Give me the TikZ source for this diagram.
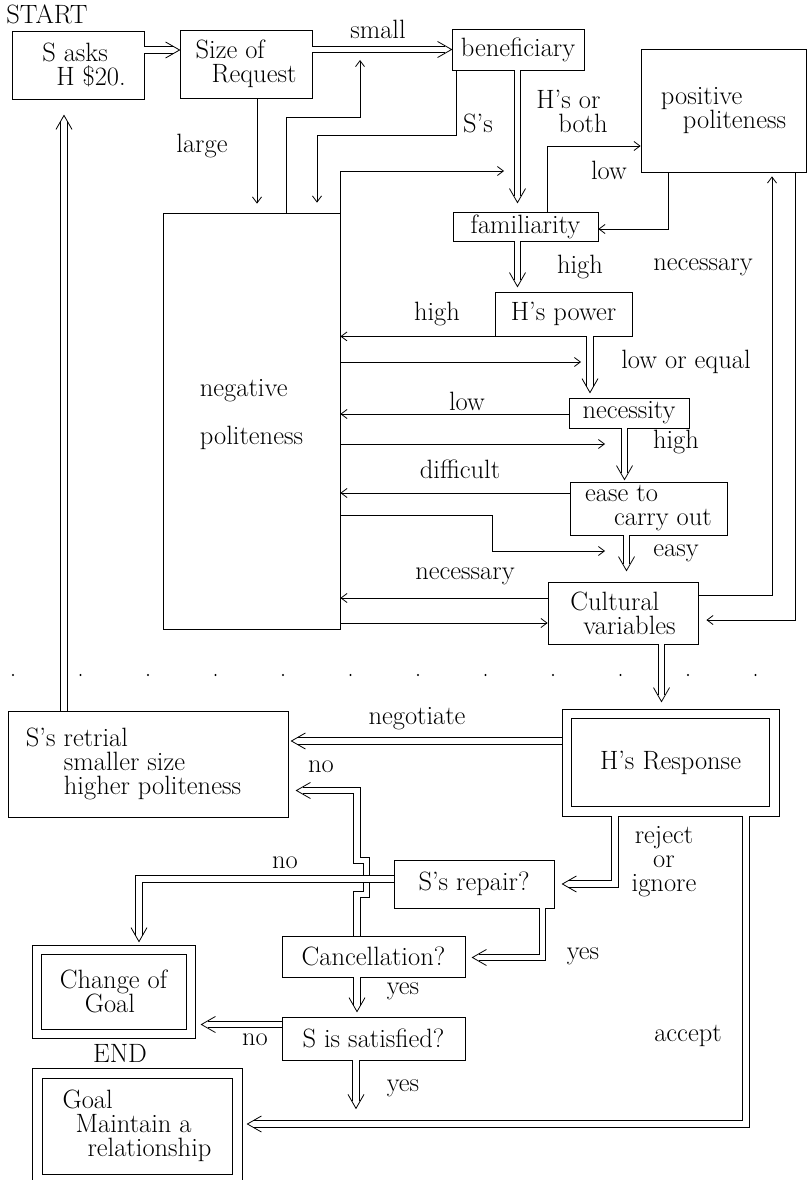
\documentclass[tikz,border=0pt]{standalone}
\usepackage{fontspec}
\usetikzlibrary{arrows.meta,calc}
\newcommand\fs{\fontsize{26.5}{24}\selectfont}
\tikzset{
  box/.style={draw, line width=0.8pt, inner sep=0pt, align=left, font=\fs},
  lbl/.style={inner sep=0pt, align=center, font=\fs},
  arr/.style={line width=0.8pt, -{Straight Barb[length=6pt,width=9pt]}},
  dbl/.style={line width=0.8pt, double, double distance=5.5pt, shorten >=7pt},
  chev/.style={line width=0.8pt},
  frame/.style={line width=0.8pt},
}
\newcommand\tipR[1]{\draw[chev] ($(#1)+(-14,-8)$) -- (#1) -- ($(#1)+(-14,8)$);}
\newcommand\tipL[1]{\draw[chev] ($(#1)+(14,-8)$) -- (#1) -- ($(#1)+(14,8)$);}
\newcommand\tipD[1]{\draw[chev] ($(#1)+(-8,-14)$) -- (#1) -- ($(#1)+(8,-14)$);}
\newcommand\tipU[1]{\draw[chev] ($(#1)+(-8,14)$) -- (#1) -- ($(#1)+(8,14)$);}
\begin{document}
\begin{tikzpicture}[x=1pt,y=-1pt]
\useasboundingbox (0,0) rectangle (809,1180);
\fill[white] (0,0) rectangle (809,1180);

% ---------- boxes ----------
\node[box, minimum width=132pt, minimum height=68pt] (sasks) at (78,65) {\hspace*{12pt}S asks\\\hspace*{26pt}H \$20.};
\node[box, minimum width=132pt, minimum height=68pt] (size) at (246,64) {Size of\\\hspace*{16pt}Request};
\node[box, minimum width=132pt, minimum height=41pt] (benef) at (518,49.5) {beneficiary};
\node[box, minimum width=165pt, minimum height=123pt] (pos) at (723.5,110.5) {positive\\\hspace*{22pt}politeness};
\node[box, minimum width=177pt, minimum height=416pt] (neg) at (251.5,421) {negative\\[24pt]politeness\\[-6pt]~};
\node[box, minimum width=145pt, minimum height=29pt] (fam) at (525.5,226.5) {familiarity};
\node[box, minimum width=137pt, minimum height=44pt] (power) at (563.5,314) {H's power};
\node[box, minimum width=120pt, minimum height=30pt] (nec) at (629,413) {necessity};
\node[box, minimum width=157pt, minimum height=53pt] (ease) at (648.5,508.5) {ease to\\\hspace*{29pt}carry out};
\node[box, minimum width=150pt, minimum height=62pt] (cult) at (623,613) {Cultural\\\hspace*{13pt}variables};
\node[box, minimum width=217pt, minimum height=107pt] (response) at (670.5,762.5) {H's Response};
\node[box, minimum width=280pt, minimum height=106pt] (retrial) at (148,764) {S's retrial\\\hspace*{38pt}smaller size\\\hspace*{38pt}higher politeness\hspace*{29pt}};
\node[box, minimum width=160pt, minimum height=48pt] (repair) at (474,884) {S's repair?};
\node[box, minimum width=183pt, minimum height=41pt] (cancel) at (373.5,956.5) {Cancellation?};
\node[box, minimum width=183pt, minimum height=43pt] (satis) at (373.5,1038.5) {S is satisfied?};
\node[box, minimum width=163pt, minimum height=93pt] (change) at (113.5,991.5) {Change of\\\hspace*{25pt}Goal};
\node[box, minimum width=210pt, minimum height=116pt] (goal) at (137,1126) {Goal\\\hspace*{13pt}Maintain a\\\hspace*{25pt}relationship};
% inner frames of the double boxes
\draw[frame] ([shift={(10,10)}]response.north west) rectangle ([shift={(-10,-10)}]response.south east);
\draw[frame] ([shift={(9.5,9.5)}]change.north west) rectangle ([shift={(-9.5,-9.5)}]change.south east);
\draw[frame] ([shift={(10.5,10.5)}]goal.north west) rectangle ([shift={(-10.5,-10.5)}]goal.south east);

% ---------- labels ----------
\node[lbl] (start) at (47,14) {START};
\node[lbl] (lsmall) at (378,29) {small};
\node[lbl] (llarge) at (202,146) {large};
\node[lbl] (lss) at (478,123) {S's};
\node[lbl, align=left] (lhs) at (572,111) {H's or\\\hspace*{22pt}both};
\node[lbl] (llow1) at (609,170) {low};
\node[lbl] (lhigh1) at (580,267) {high};
\node[lbl] (lnec1) at (703,267) {necessary};
\node[lbl] (lhigh2) at (437,314) {high};
\node[lbl] (lloweq) at (686,362) {low or equal};
\node[lbl] (llow2) at (467,401) {low};
\node[lbl] (lhigh3) at (676,442) {high};
\node[lbl] (ldiff) at (460,469) {difficult};
\node[lbl] (leasy) at (676,553) {easy};
\node[lbl] (lnec2) at (465,576) {necessary};
\node[lbl] (lneg) at (417,719) {negotiate};
\node[lbl] (lno1) at (321,767) {no};
\node[lbl] (lrej) at (664,862) {reject\\or\\ignore};
\node[lbl] (lno2) at (285,863) {no};
\node[lbl] (lyes1) at (583,956) {yes};
\node[lbl] (lyes2) at (403,991) {yes};
\node[lbl] (lno3) at (255,1040) {no};
\node[lbl] (lend) at (120,1053) {END};
\node[lbl] (lyes3) at (403,1088) {yes};
\node[lbl] (lacc) at (688,1036) {accept};

% ---------- dotted separator ----------
\foreach \k in {0,...,11} \fill (13+67.5*\k,675) circle (1.1pt);

% ---------- coordinates ----------
\coordinate (t1) at ([yshift=14pt]size.west);
\coordinate (smallpt) at (360,60);
\coordinate (c6) at (504,171);
\coordinate (t7) at ([xshift=-8pt,yshift=9pt]fam.north);
\coordinate (t10) at ([yshift=5pt]power.north -| t7);
\coordinate (t12) at ([xshift=-39pt,yshift=5pt]nec.north);
\coordinate (c13) at (581,362);
\coordinate (t15) at ([xshift=-24pt,yshift=2pt]ease.north);
\coordinate (c16) at (605,444);
\coordinate (c18) at (605,551);
\coordinate (t19) at ([xshift=3.5pt,yshift=11pt]cult.north);
\coordinate (t24) at ([xshift=-9pt,yshift=7pt]response.north);
\coordinate (t25) at ([xshift=-14pt,yshift=-16pt]sasks.south);
\coordinate (r26) at ([yshift=21.5pt]response.west);
\coordinate (t26) at ([xshift=3pt]r26 -| retrial.east);
\coordinate (t27) at ([xshift=8pt]repair.east);
\coordinate (t28) at ([xshift=5pt,yshift=2pt]goal.east);
\coordinate (t29) at ([xshift=25.5pt,yshift=3pt]change.north);
\coordinate (t30) at ([xshift=7pt,yshift=-1pt]cancel.east);
\coordinate (t31) at ([xshift=8pt,yshift=-26.5pt]retrial.east);
\coordinate (t32) at ([xshift=-16.5pt,yshift=5pt]satis.north);
\coordinate (s33) at ([yshift=14pt]satis.west);
\coordinate (t33) at ([xshift=6pt]s33 -| change.east);
\coordinate (t34) at ([xshift=-17.5pt,yshift=-48pt]satis.south);

% ---------- single arrows ----------
\draw[arr, shorten >=9pt] ([xshift=11pt]size.south) -- ([xshift=11pt]size.south |- neg.north);
\draw[arr] ([xshift=34.5pt]neg.north) |- ($(smallpt)+(0,57)$) -- (smallpt);
\draw[arr, shorten >=10pt] ([xshift=5pt]benef.south west) -- ++(0,65) -| ([xshift=65.5pt]neg.north);
\draw[arr] (neg.north east) |- (c6);
\draw[arr] ([xshift=95pt]fam.north west) |- ([yshift=-35.5pt]pos.west);
\draw[arr] ([xshift=28pt]pos.south west) |- ([yshift=-2.5pt]fam.east);
\draw[arr] (power.south west) -- (power.south west -| neg.east);
\draw[arr] (c13 -| neg.east) -- (c13);
\draw[arr] ([yshift=-1pt]nec.west) -- ([yshift=-1pt]nec.west -| neg.east);
\draw[arr] (c16 -| neg.east) -- (c16);
\draw[arr] ([yshift=15.5pt]ease.west) -- ([yshift=15.5pt]ease.west -| neg.east);
\draw[arr] ([yshift=-94pt]neg.east) -- ++(152,0) |- (c18);
\draw[arr] ([yshift=15pt]cult.west) -- ([yshift=15pt]cult.west -| neg.east);
\draw[arr] ([yshift=-10pt]cult.west -| neg.east) -- ([yshift=-10pt]cult.west);
\draw[arr] ([yshift=18pt]cult.east) -| ([xshift=48.5pt,yshift=-4pt]pos.south);
\draw[arr, shorten >=8pt] ([xshift=71.5pt]pos.south) |- ([yshift=-7pt]cult.east);

% ---------- double arrows ----------
\draw[dbl] (t1 -| sasks.east) -- (t1); \tipR{t1}
\draw[dbl] (benef.west -| size.east) -- (benef.west); \tipR{benef.west}
\draw[dbl] (t7 |- benef.south) -- (t7); \tipD{t7}
\draw[dbl] (t10 |- fam.south) -- (t10); \tipD{t10}
\draw[dbl] (t12 |- power.south) -- (t12); \tipD{t12}
\draw[dbl] (t15 |- nec.south) -- (t15); \tipD{t15}
\draw[dbl] (t19 |- ease.south) -- (t19); \tipD{t19}
\draw[dbl] (t24 |- cult.south) -- (t24); \tipD{t24}
\draw[dbl, double distance=6.5pt] (t25 |- retrial.north) -- (t25); \tipU{t25}
\draw[dbl] (r26) -- (t26); \tipL{t26}
\draw[dbl] ([xshift=-55.5pt]response.south) |- (t27); \tipL{t27}
\draw[dbl] ([xshift=75.5pt]response.south) |- (t28); \tipL{t28}
\draw[dbl] ([xshift=68.5pt]repair.south) |- (t30); \tipL{t30}
\draw[dbl] ([xshift=-16.5pt]cancel.north) -- ++(0,-41) -- ++(9.5,0) -- ++(0,-34) -- ++(-9.5,0) |- (t31); \tipL{t31}
\draw[dbl] ([yshift=5pt]repair.west) -| (t29); \tipD{t29}
\draw[dbl] (t32 |- cancel.south) -- (t32); \tipD{t32}
\draw[dbl] (s33) -- (t33); \tipL{t33}
\draw[dbl] (t34 |- satis.south) -- (t34); \tipD{t34}
\end{tikzpicture}
\end{document}
